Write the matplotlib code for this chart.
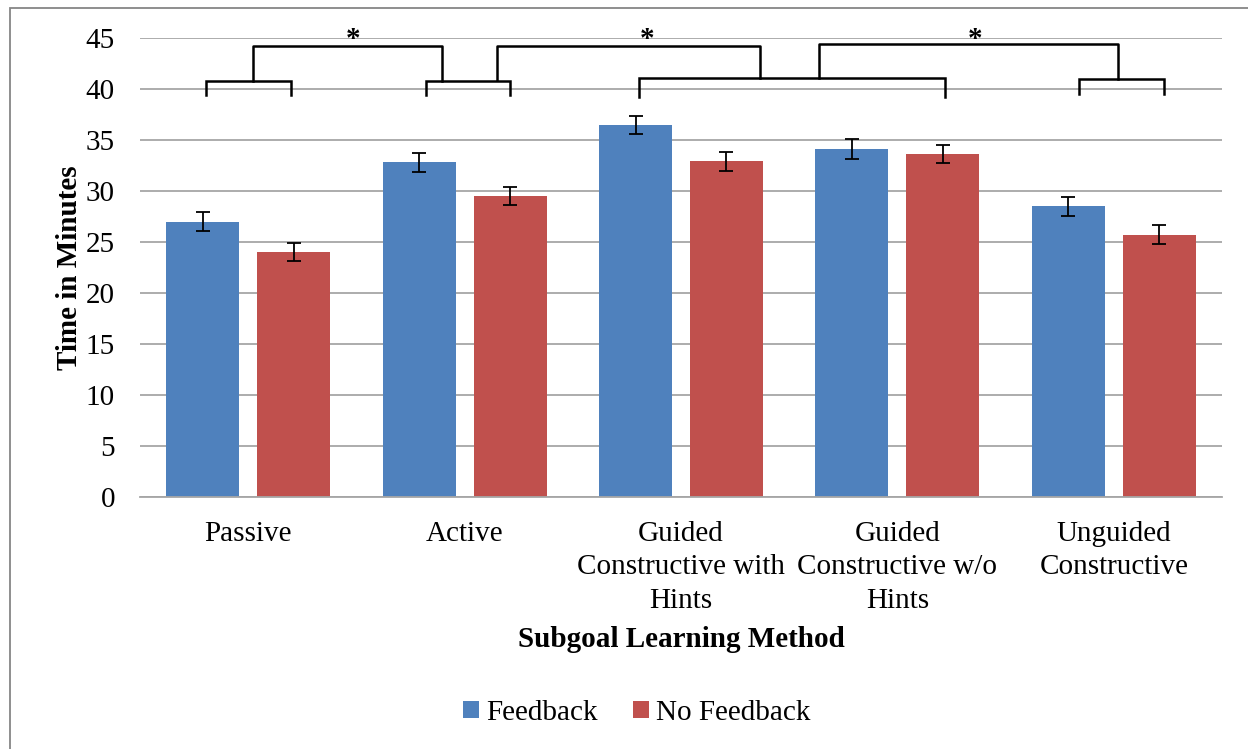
import numpy as np
import matplotlib
matplotlib.use('Agg')
import matplotlib.pyplot as plt
from matplotlib.patches import Rectangle

# data
categories = ['Passive', 'Active', 'Guided\nConstructive with\nHints',
              'Guided\nConstructive w/o\nHints', 'Unguided\nConstructive']
feedback = [27.0, 32.8, 36.5, 34.1, 28.5]
no_feedback = [24.0, 29.5, 32.9, 33.6, 25.7]
feedback_err = [0.93, 0.93, 0.9, 0.95, 0.92]
no_feedback_err = [0.9, 0.9, 0.9, 0.9, 0.94]
series_names = ['Feedback', 'No Feedback']
y_ticks = [0, 5, 10, 15, 20, 25, 30, 35, 40, 45]

BLUE = '#4F81BD'
RED = '#C0504D'
GRID = '#A6A6A6'
FS = 21

plt.rcParams['font.family'] = ['Liberation Serif', 'DejaVu Serif']

fig = plt.figure(figsize=(12.48, 7.49), dpi=100)
ax = fig.add_axes([140 / 1248, 1 - 497 / 749, (1222 - 140) / 1248, (497 - 38) / 749])

x = np.arange(len(categories))
width = 0.337
off = 0.21
ax.bar(x - off, feedback, width, color=BLUE, label=series_names[0], zorder=2)
ax.bar(x + off, no_feedback, width, color=RED, label=series_names[1], zorder=2)
ax.errorbar(x - off, feedback, yerr=feedback_err, fmt='none', ecolor='black',
            elinewidth=1.3, capsize=4.8, capthick=1.3, zorder=3)
ax.errorbar(x + off, no_feedback, yerr=no_feedback_err, fmt='none', ecolor='black',
            elinewidth=1.3, capsize=4.8, capthick=1.3, zorder=3)

ax.set_xlim(-0.5, len(categories) - 0.5)
ax.set_ylim(0, 45)
ax.set_yticks(y_ticks)
ax.yaxis.grid(True, color=GRID, linewidth=1.3, zorder=0)
ax.set_axisbelow(True)
for s in ['left', 'right', 'top']:
    ax.spines[s].set_visible(False)
ax.spines['bottom'].set_color(GRID)
ax.spines['bottom'].set_linewidth(1.3)
ax.tick_params(axis='y', length=0, pad=18, labelsize=FS)
ax.tick_params(axis='x', length=0, pad=17, labelsize=FS)
ax.set_xticks(x)
ax.set_xticklabels(categories, linespacing=1.38)
ax.set_ylabel('Time in Minutes', fontsize=FS, fontweight='bold', labelpad=2)
ax.set_xlabel('Subgoal Learning Method', fontsize=FS, fontweight='bold', labelpad=9)


def bracket(x0, x1, y, drop):
    ax.plot([x0, x0, x1, x1], [y - drop, y, y, y - drop], color='black',
            linewidth=1.8, clip_on=False, zorder=4, solid_joinstyle='miter')


# small brackets over each pair / group
bracket(-0.195, 0.198, 40.75, 1.35)
bracket(0.82, 1.21, 40.75, 1.35)
bracket(1.806, 3.22, 41.05, 1.85)
bracket(3.84, 4.23, 40.95, 1.45)
# significance brackets linking groups
ax.plot([0.022, 0.022, 0.896, 0.896], [40.75, 44.2, 44.2, 40.75], color='black',
        linewidth=1.8, clip_on=False, zorder=4)
ax.plot([1.15, 1.15, 2.365, 2.365], [40.9, 44.2, 44.2, 41.05], color='black',
        linewidth=1.8, clip_on=False, zorder=4)
ax.plot([2.638, 2.638, 4.019, 4.019], [41.05, 44.4, 44.4, 40.95], color='black',
        linewidth=1.8, clip_on=False, zorder=4)
for sx in [0.484, 1.843, 3.359]:
    ax.text(sx, 43.5, '*', ha='center', va='bottom', fontsize=21,
            fontweight='bold', clip_on=False)

leg = fig.legend(loc='center', bbox_to_anchor=(637 / 1248, 1 - 713 / 749),
                 ncol=2, frameon=False, fontsize=FS, handlelength=0.55,
                 handleheight=0.55, handletextpad=0.25, columnspacing=1.2)

# chart-area border (left and top visible)
fig.patches.append(Rectangle((10 / 1248, -0.05), 1.2, 1 - 8 / 749 + 0.05,
                             transform=fig.transFigure, fill=False,
                             edgecolor='#868686', linewidth=1.3))

fig.savefig('out.png', dpi=100)
